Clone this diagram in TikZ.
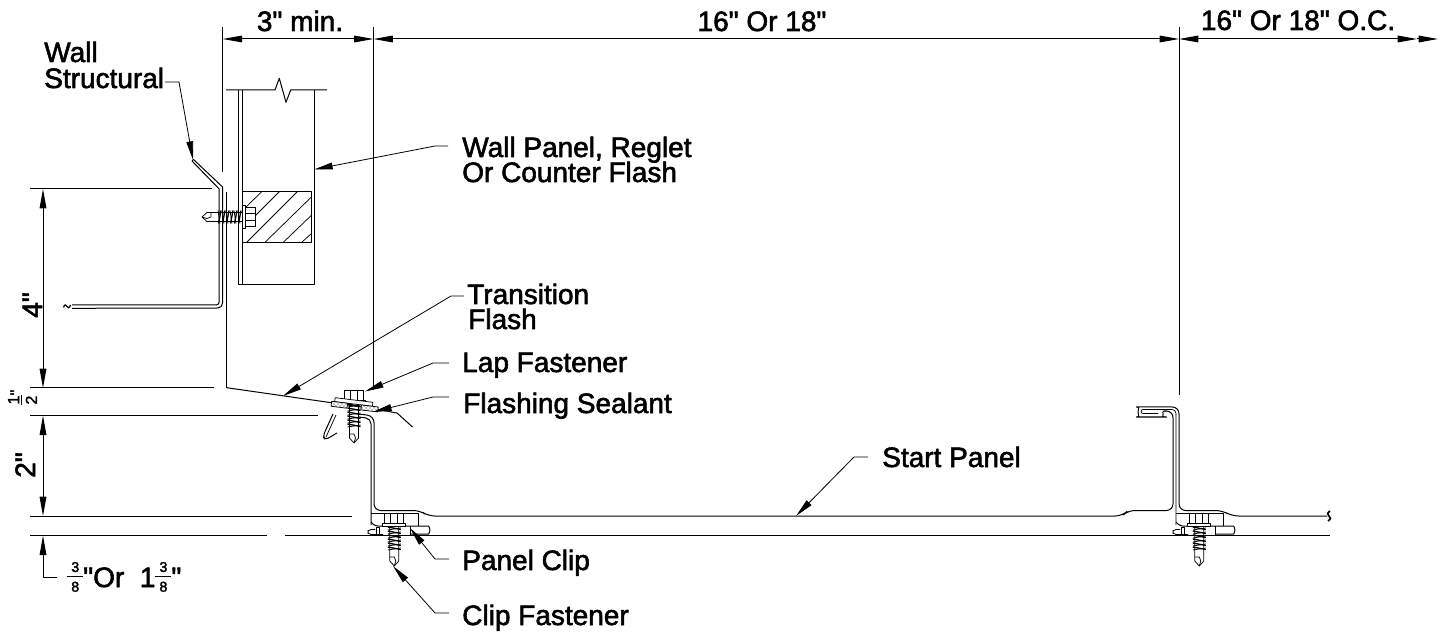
\documentclass[tikz,border=0pt]{standalone}
\usepackage{fontspec}
\usetikzlibrary{arrows.meta,patterns}
\newfontfamily\lblfont[BoldFont={Liberation Sans},BoldFeatures={FakeBold=2}]{Liberation Sans}
\newcommand\frcn[2]{\lower3.5pt\vbox{\offinterlineskip\fontsize{10.7}{10.7}\selectfont
  \hbox to 12pt{\hss #1\hss}\vskip3pt\hrule height .7pt\vskip3.5pt\hbox to 12pt{\hss #2\hss}}}
\newcommand\frch[2]{\lower3.5pt\vbox{\offinterlineskip\fontsize{12}{12}\selectfont
  \hbox to 7pt{\hss #1\hss}\vskip1.3pt\hrule height .7pt\vskip3pt\hbox to 7pt{\hss #2\hss}}}
\tikzset{
  ln/.style={line width=.75pt,black,line join=round},
  thin2/.style={line width=.55pt,black,line join=round},
  dimarrow/.style={ln,{Triangle[length=14.5pt,width=5pt]}-{Triangle[length=14.5pt,width=5pt]}},
  endarrow/.style={ln,-{Triangle[length=14.5pt,width=5pt]}},
  leader/.style={line width=.6pt,black,-{Triangle[length=14pt,width=5pt]}},
  lbl/.style={font=\lblfont\bfseries\fontsize{21}{20}\selectfont,inner sep=0pt,align=left,anchor=base west},
  dimtxt/.style={font=\lblfont\bfseries\fontsize{21}{20}\selectfont,inner sep=0pt,anchor=base},
  pics/screw/.style={code={
    \draw[thin2,fill=white] (-9.5,-10) rectangle (9.5,0);
    \draw[thin2] (-3.5,-10) -- (-3.5,0) (3.5,-10) -- (3.5,0);
    \draw[thin2,fill=white] (-11.5,0) rectangle (11.5,3);
    \foreach \t in {4,8,...,24}{
      \draw[line width=1pt] (-6.5,\t) -- (6.5,\t+2.5);
      \draw[thin2] (-6.5,\t+3) -- (6.5,\t+1);
    }
    \draw[thin2] (-4.5,3) -- (-4.5,38) -- (0,43) -- (4.5,38) -- (4.5,3);
    \draw[thin2] (-4.5,34) -- (0,34) -- (1.5,38) -- (0,43);
  }}
}
\begin{document}
\begin{tikzpicture}[x=.75pt,y=-.75pt]
\useasboundingbox (0,0) rectangle (1449,634);

% --- coordinates of leader ends
\coordinate (wsA) at (165,82);   \coordinate (wsB) at (179,82);   \coordinate (wsT) at (193,160);
\coordinate (wpA) at (448,146);  \coordinate (wpB) at (435,146);  \coordinate (wpT) at (314,169.5);
\coordinate (tfA) at (464,296);  \coordinate (tfB) at (451,296);  \coordinate (tfT) at (283,396);
\coordinate (lfA) at (449,363);  \coordinate (lfB) at (433,363);  \coordinate (lfT) at (365,391.5);
\coordinate (fsA) at (449,397);  \coordinate (fsB) at (433,397);  \coordinate (fsT) at (373,412);
\coordinate (spA) at (868,457);  \coordinate (spB) at (854,457);  \coordinate (spT) at (796,516);
\coordinate (pcA) at (449,559);  \coordinate (pcB) at (435,559);  \coordinate (pcT) at (410,528);
\coordinate (cfA) at (449,613);  \coordinate (cfB) at (435,613);  \coordinate (cfT) at (393,566);

% --- dimension and extension lines
\draw[ln] (222.7,27) -- (222.7,172);
\draw[ln] (373.5,27) -- (373.5,388);
\draw[ln] (1179,27) -- (1179,395);
\coordinate (d0) at (222.7,39); \coordinate (d1) at (373.5,39); \coordinate (d2) at (1179,39);
\coordinate (d3) at (1417,39);  \coordinate (d4) at (1438,39);
\draw[dimarrow] (d0) -- (d1);
\draw[dimarrow] (d1) -- (d2);
\draw[dimarrow] (d2) -- (d3);
\draw[endarrow] (d3) -- (d4);

\draw[ln] (30,189) -- (212,189);
\draw[ln] (30,388) -- (214,388);
\draw[ln] (30,415.7) -- (318,415.7);
\draw[ln] (30,516) -- (352,516);
\draw[ln] (30,535.7) -- (267,535.7);
\draw[ln] (285,535.7) -- (1330,535.7);
\coordinate (v0) at (43,189); \coordinate (v1) at (43,388); \coordinate (v2) at (43,415.7);
\coordinate (v3) at (43,516); \coordinate (v4) at (43,535.7); \coordinate (v5) at (43,577); \coordinate (v6) at (57,577);
\draw[dimarrow] (v0) -- (v1);
\draw[dimarrow] (v2) -- (v3);
\draw[endarrow] (v6) -- (v5) -- (v4);

% --- wall
\draw[ln] (226,90) -- (275,90) -- (279.3,78.3) -- (286,102.3) -- (290.7,90) -- (327,90);
\draw[ln] (238.3,90) -- (238.3,285) -- (314.3,285) -- (314.3,90);
\draw[ln] (242.5,90) -- (242.5,285);
\draw[thin2] (242.5,191.7) rectangle (311.7,242.3);
\draw[thin2] (261.7,191.7) -- (243,210) (279.3,191.7) -- (255,216) (297.3,191.7) -- (246.7,242.3)
  (311.7,196.7) -- (265,242.3) (311.7,215) -- (283.3,242.3) (311.7,233.3) -- (301.7,242.3);

% --- structural flash
\draw[ln] (192,161) -- (193.5,159.5) -- (222.6,187) -- (222.6,303) arc[start angle=0,end angle=90,radius=5] -- (72,308.3);
\draw[ln] (192,161) -- (219.2,189) -- (219.2,302) arc[start angle=0,end angle=90,radius=3] -- (72,305);
\draw[line width=.9pt] (63.5,307.5) .. controls (64.5,304) and (66,304.5) .. (67,306.5) .. controls (68,308.5) and (69.5,308.5) .. (70.5,305);
\draw[ln] (226.7,192) -- (226.7,387.7);

\pic[transform shape] at (245,217) [rotate=-90] {screw};

% --- transition flash
\draw[ln] (226.7,387.7) -- (375,409) -- (397,413) -- (412.5,427);

% --- start panel: from left flange along the pan into the hook of the right seam, then on
\draw[ln,rounded corners=5pt] (355,413.5) -- (374,416) -- (374,510.5) -- (420,510.5) -- (428,516) -- (1122,516) -- (1128,510.5) -- (1173,510.5) -- (1173,411) -- (1160,411)
   arc[start angle=-90,end angle=90,radius=3] -- (1143,417) arc[start angle=90,end angle=270,radius=5] -- (1179,407) -- (1179,510.5) -- (1222,510.5) -- (1232,516) -- (1327,516);
\draw[ln,rounded corners=4pt] (358,417) -- (371,418.5) -- (371,525);
\draw[ln,rounded corners=2.5pt] (333,414) -- (323,436) -- (325,440) -- (337,433);
\draw[thin2,rounded corners=2.5pt] (336,415) -- (326,437);
% inner line of the hook and clip leg
\draw[thin2,rounded corners=3pt] (1176,525) -- (1176,409.5) -- (1143,409.5);
\draw[thin2] (1143,409.5) arc[start angle=270,end angle=90,radius=2] -- (1158,413.5);
\draw[line width=1.3pt] (1330,511) .. controls (1327,513) and (1327,514.5) .. (1329,516) .. controls (1331,517.5) and (1331,519) .. (1328,521);

% --- clips
\foreach \dx in {0,-805}{
\begin{scope}[shift={(\dx,0)}]
  \draw[thin2] (1176,513) -- (1223,513) -- (1223,526);
  \draw[ln,rounded corners=2pt] (1176,522) -- (1180,526) -- (1231,526) arc[start angle=-90,end angle=90,radius=4] -- (1215,534);
  \draw[thin2] (1181,527) rectangle (1184,535);
  \draw[thin2,rounded corners=1.5pt] (1180,529.5) -- (1174,529.5) -- (1172,532) -- (1174,534.5) -- (1188,534.5);
  \draw[thin2] (1215,526) -- (1215,535);
  \pic at (1199.3,523) {screw};
\end{scope}}

% --- lap fastener
\begin{scope}[shift={(354,400)},rotate=-7]
  \pic at (0,0) {screw};
  \draw[thin2,fill=white] (-19,0) rectangle (19,4);
  \draw[thin2,fill=white] (-22,4) rectangle (-6,9);
  \draw[thin2,fill=white] (8,4) rectangle (25,9);
  \fill[pattern=crosshatch dots] (-22,4) rectangle (-6,9);
  \fill[pattern=crosshatch dots] (8,4) rectangle (25,9);
\end{scope}

% --- leaders
\draw[leader] (wsA) -- (wsB) -- (wsT);
\draw[leader] (wpA) -- (wpB) -- (wpT);
\draw[leader] (tfA) -- (tfB) -- (tfT);
\draw[leader] (lfA) -- (lfB) -- (lfT);
\draw[leader] (fsA) -- (fsB) -- (fsT);
\draw[leader] (spA) -- (spB) -- (spT);
\draw[leader] (pcA) -- (pcB) -- (pcT);
\draw[leader] (cfA) -- (cfB) -- (cfT);

% --- labels
\node[lbl] (tws) at (44,62) {Wall};
\node[lbl] (tws2) at (44,88) {Structural};
\node[lbl] (twp) at (462,157) {Wall Panel, Reglet};
\node[lbl] (twp2) at (462,182) {Or Counter Flash};
\node[lbl] (ttf) at (467,304) {Transition};
\node[lbl] (ttf2) at (468,329) {Flash};
\node[lbl] (tlf) at (462,372) {Lap Fastener};
\node[lbl] (tfs) at (463,413) {Flashing Sealant};
\node[lbl] (tsp) at (882,467) {Start Panel};
\node[lbl] (tpc) at (462,570) {Panel Clip};
\node[lbl] (tcf) at (462,625) {Clip Fastener};
\node[dimtxt] (t3) at (300,31) {3" min.};
\node[dimtxt] (t16) at (762,31) {16" Or 18"};
\node[dimtxt] (t16b) at (1298,30) {16" Or 18" O.C.};
\node[dimtxt,rotate=90] (t4) at (42,305) {4"};
\node[dimtxt,rotate=90] (t2) at (35,465) {2"};
\node[lbl,rotate=90,font=\lblfont\bfseries\fontsize{12}{12}\selectfont] (thalf) at (32.3,405) {\frch{1}{2}\raisebox{8pt}{"}};
\node[lbl] (tor) at (67,587) {\frcn{3}{8}"Or\ \ 1\frcn{3}{8}"};
\end{tikzpicture}
\end{document}
